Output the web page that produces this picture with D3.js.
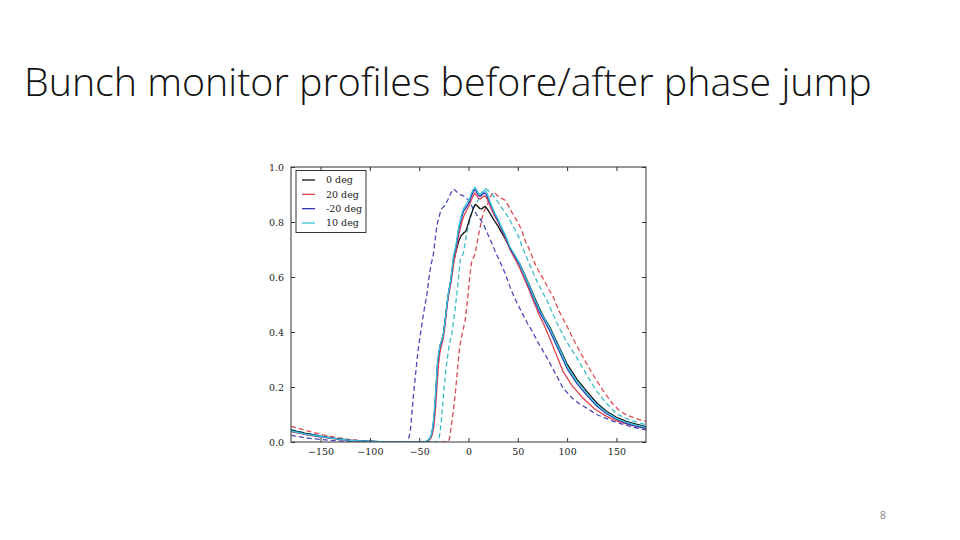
<!DOCTYPE html>
<html><head><meta charset="utf-8">
<script src="https://cdn.jsdelivr.net/npm/d3@7"></script>
<style>html,body{margin:0;padding:0;background:#fff;}svg{display:block;}</style>
</head><body>
<svg id="chart" width="960" height="540"></svg>
<script>
const titleText = "Bunch monitor profiles before/after phase jump";
const pageNumber = "8";
const xTicks = [-150, -100, -50, 0, 50, 100, 150];
const yTicks = [0.0, 0.2, 0.4, 0.6, 0.8, 1.0];
const legendLabels = ["0 deg", "20 deg", "-20 deg", "10 deg"];

const deg0 = [[-180,0.043],[-165,0.031],[-150,0.021],[-135,0.013],[-120,0.007],[-105,0.003],[-90,0.001],[-70,0],[-44,0],[-41,0.006],[-39,0.012],[-37.5,0.026],[-36,0.05],[-34.5,0.1],[-33,0.18],[-31.5,0.27],[-30,0.32],[-28.7,0.35],[-27,0.37],[-25.4,0.395],[-23.5,0.445],[-22,0.495],[-20.3,0.54],[-18,0.585],[-15.2,0.655],[-12.5,0.695],[-10,0.73],[-7.5,0.75],[-5,0.76],[-3,0.765],[-1,0.785],[1,0.81],[3,0.83],[5,0.85],[7,0.864],[9,0.858],[11.5,0.849],[13.5,0.848],[15.5,0.854],[17,0.856],[19,0.848],[21,0.836],[24,0.818],[27,0.8],[30,0.785],[33,0.765],[37,0.74],[42,0.705],[47,0.675],[52,0.648],[57,0.608],[62,0.568],[67,0.525],[72,0.485],[77,0.45],[83,0.414],[88,0.375],[94,0.33],[100,0.283],[110,0.228],[120,0.184],[130,0.142],[140,0.112],[150,0.09],[160,0.075],[170,0.065],[180,0.056]];

const deg20 = [[-180,0.038],[-165,0.027],[-150,0.018],[-135,0.011],[-120,0.005],[-105,0.002],[-90,0.001],[-70,0],[-43,0],[-40,0.006],[-38,0.015],[-36.5,0.03],[-35,0.06],[-33.5,0.12],[-32,0.2],[-30.5,0.28],[-29,0.325],[-27.5,0.35],[-26,0.37],[-24.5,0.4],[-23,0.45],[-21.5,0.5],[-19.8,0.54],[-17.5,0.585],[-15,0.65],[-12.5,0.7],[-10,0.75],[-7.5,0.79],[-5,0.82],[-3,0.835],[-1,0.848],[1,0.862],[3,0.882],[5,0.898],[6.5,0.905],[8,0.898],[10,0.887],[12,0.884],[14,0.89],[16,0.895],[18,0.89],[20,0.875],[22,0.856],[24,0.84],[27,0.818],[30,0.8],[33,0.776],[37,0.745],[42,0.7],[47,0.667],[52,0.632],[57,0.59],[62,0.548],[67,0.503],[72,0.46],[77,0.423],[81,0.389],[86,0.345],[91,0.3],[96,0.256],[105,0.205],[116,0.16],[128,0.12],[140,0.093],[150,0.077],[160,0.066],[170,0.057],[180,0.05]];

const degm20 = [[-180,0.04],[-165,0.029],[-150,0.02],[-135,0.012],[-120,0.006],[-105,0.003],[-90,0.001],[-70,0],[-44,0],[-41,0.006],[-39,0.014],[-37.5,0.028],[-36,0.055],[-34.5,0.11],[-33,0.19],[-31.5,0.28],[-30,0.325],[-28.7,0.35],[-27,0.368],[-25.4,0.393],[-23.5,0.445],[-22,0.495],[-20.3,0.54],[-18,0.585],[-15.2,0.67],[-12.5,0.715],[-10,0.77],[-7.5,0.81],[-5,0.84],[-3,0.85],[-1,0.86],[1,0.875],[3,0.895],[5,0.912],[6.5,0.918],[8,0.91],[10,0.897],[12,0.893],[14,0.9],[16,0.906],[18,0.9],[20,0.885],[22,0.866],[24,0.85],[27,0.826],[30,0.805],[33,0.78],[37,0.75],[42,0.706],[47,0.675],[52,0.643],[57,0.6],[62,0.558],[67,0.513],[72,0.473],[77,0.44],[83,0.4],[88,0.36],[94,0.315],[100,0.267],[110,0.212],[120,0.17],[130,0.131],[140,0.103],[150,0.083],[160,0.068],[170,0.058],[180,0.05]];

const deg10 = [[-180,0.04],[-165,0.029],[-150,0.02],[-135,0.012],[-120,0.006],[-105,0.003],[-90,0.001],[-70,0],[-44,0],[-41,0.006],[-39,0.015],[-37.5,0.03],[-36,0.06],[-34.5,0.12],[-33,0.2],[-31.5,0.29],[-30,0.33],[-28.7,0.353],[-27,0.37],[-25.4,0.395],[-23.5,0.45],[-22,0.5],[-20.3,0.545],[-18,0.59],[-15.2,0.675],[-12.5,0.72],[-10,0.78],[-7.5,0.82],[-5,0.85],[-3,0.86],[-1,0.87],[1,0.885],[3,0.905],[5,0.92],[6.5,0.926],[8,0.918],[10,0.905],[12,0.9],[14,0.908],[16,0.915],[18,0.91],[20,0.893],[22,0.872],[24,0.855],[27,0.83],[30,0.81],[33,0.785],[37,0.755],[42,0.71],[47,0.68],[52,0.648],[57,0.605],[62,0.565],[67,0.52],[72,0.48],[77,0.448],[83,0.41],[88,0.37],[94,0.325],[100,0.275],[110,0.22],[120,0.176],[130,0.136],[140,0.107],[150,0.086],[160,0.071],[170,0.061],[180,0.053]];

const deg20Dashed = [[-180,0.057],[-165,0.042],[-150,0.028],[-135,0.017],[-120,0.009],[-105,0.004],[-90,0.001],[-75,0],[-21,0],[-19.5,0.01],[-18.6,0.026],[-17,0.07],[-15.5,0.11],[-13.5,0.172],[-11,0.27],[-9.1,0.345],[-6,0.4],[-3.3,0.444],[-1.5,0.5],[0,0.55],[1.5,0.61],[3.4,0.661],[5,0.67],[6.8,0.685],[8.5,0.72],[10.1,0.752],[12,0.785],[13.6,0.813],[16,0.84],[19,0.862],[22,0.89],[25.4,0.909],[29,0.897],[33,0.887],[37.2,0.879],[41,0.855],[45.6,0.825],[50,0.8],[54,0.77],[57.5,0.732],[61,0.705],[65,0.67],[69,0.635],[72.7,0.613],[78,0.578],[82,0.552],[86.2,0.525],[92,0.475],[99.8,0.422],[108,0.362],[116.6,0.305],[127,0.24],[137,0.184],[146,0.14],[153.9,0.111],[162,0.096],[170,0.085],[180,0.075]];

const degm20Dashed = [[-180,0.024],[-165,0.015],[-150,0.009],[-135,0.005],[-120,0.002],[-100,0.001],[-80,0],[-63,0],[-61,0.008],[-59,0.04],[-57.5,0.1],[-55.8,0.172],[-53,0.27],[-50.7,0.345],[-48,0.41],[-45.6,0.468],[-42,0.54],[-40,0.6],[-38,0.645],[-36,0.675],[-34,0.73],[-32,0.788],[-29,0.83],[-27,0.849],[-24,0.86],[-21,0.88],[-18,0.905],[-15,0.92],[-12,0.91],[-9,0.9],[-6,0.897],[-3,0.89],[0,0.879],[3,0.86],[6,0.84],[9,0.822],[12,0.81],[16,0.785],[20,0.752],[24,0.72],[28,0.685],[32,0.655],[37,0.615],[42,0.565],[46,0.53],[50,0.5],[55,0.465],[60,0.43],[65,0.4],[70,0.365],[75,0.335],[80,0.303],[88,0.25],[96,0.196],[105,0.16],[112,0.14],[120,0.123],[130,0.1],[140,0.085],[147,0.075],[155,0.066],[165,0.056],[172,0.05],[180,0.044]];

const deg10Dashed = [[-180,0.045],[-165,0.033],[-150,0.022],[-135,0.013],[-120,0.007],[-105,0.003],[-90,0.001],[-75,0],[-31,0],[-30,0.01],[-28.7,0.038],[-27,0.1],[-25.4,0.172],[-23,0.26],[-20.3,0.335],[-18.5,0.37],[-16.8,0.395],[-14,0.47],[-11.8,0.54],[-10,0.6],[-8.4,0.661],[-5,0.69],[-3,0.73],[-1.6,0.764],[1,0.8],[3.4,0.837],[6,0.86],[9,0.875],[12,0.89],[15,0.91],[17,0.921],[20,0.915],[24,0.9],[28.8,0.879],[33,0.855],[38.9,0.825],[43,0.8],[47.4,0.77],[51,0.745],[54.2,0.712],[58,0.68],[62,0.645],[65.9,0.613],[70,0.58],[75,0.545],[79.5,0.516],[85,0.47],[91.3,0.42],[100,0.362],[110,0.305],[120,0.243],[130,0.184],[140,0.14],[150,0.103],[160,0.085],[170,0.073],[180,0.063]];

const seriesList = [
  {data: deg20Dashed, color: "#dc4d55", dashed: true},
  {data: deg10Dashed, color: "#3cbcc8", dashed: true},
  {data: degm20Dashed, color: "#4a4cb8", dashed: true},
  {data: deg0, color: "#111111", dashed: false},
  {data: deg20, color: "#e0444c", dashed: false},
  {data: degm20, color: "#3036b4", dashed: false},
  {data: deg10, color: "#38c4d8", dashed: false}
];
const legendColors = ["#111111", "#e0444c", "#3036b4", "#38c4d8"];

(function () {
const svg = d3.select("#chart");
const pL = 291, pR = 646, pT = 167, pB = 442;
const x = d3.scaleLinear().domain([-180, 180]).range([pL, pR]);
const y = d3.scaleLinear().domain([0, 1]).range([pB, pT]);

// Title
const title = svg.append("text")
  .attr("x", 24).attr("y", 96)
  .attr("font-family", "'Open Sans', 'Noto Sans', sans-serif")
  .attr("font-weight", 300)
  .attr("font-size", 38)
  .attr("fill", "#111")
  .text(titleText);
const tw = title.node().getComputedTextLength();
title.attr("font-size", 38 * 848 / tw);

svg.append("text")
  .attr("x", 883).attr("y", 519)
  .attr("text-anchor", "middle")
  .attr("font-family", "'Open Sans', 'Noto Sans', sans-serif")
  .attr("font-size", 11)
  .attr("fill", "#8a8a8a")
  .text(pageNumber);

svg.append("defs").append("clipPath").attr("id", "clip")
  .append("rect").attr("x", pL).attr("y", pT)
  .attr("width", pR - pL).attr("height", pB - pT);

const line = d3.line().x(d => x(d[0])).y(d => y(d[1]));
const g = svg.append("g").attr("clip-path", "url(#clip)");
seriesList.forEach(s => {
  g.append("path").datum(s.data)
    .attr("d", line)
    .attr("fill", "none")
    .attr("stroke", s.color)
    .attr("stroke-width", 1.3)
    .attr("stroke-dasharray", s.dashed ? "5,3" : null);
});

// Axes
const tickLen = 4;
const fontAx = "'DejaVu Serif', serif";
const xAxisB = d3.axisBottom(x).tickValues(xTicks).tickSizeInner(-tickLen).tickSizeOuter(0).tickPadding(6)
  .tickFormat(d => d < 0 ? "\u2212" + Math.abs(d) : d);
const xAxisT = d3.axisTop(x).tickValues(xTicks).tickSizeInner(-tickLen).tickSizeOuter(0).tickFormat("");
const yAxisL = d3.axisLeft(y).tickValues(yTicks).tickSizeInner(-tickLen).tickSizeOuter(0).tickPadding(7)
  .tickFormat(d3.format(".1f"));
const yAxisR = d3.axisRight(y).tickValues(yTicks).tickSizeInner(-tickLen).tickSizeOuter(0).tickFormat("");

function style(sel) {
  sel.select(".domain").remove();
  sel.selectAll("line").attr("stroke", "#333");
  sel.selectAll("text").attr("font-family", fontAx).attr("font-size", 9.5).attr("fill", "#222");
}
svg.append("g").attr("transform", `translate(0,${pB})`).call(xAxisB).call(style);
svg.append("g").attr("transform", `translate(0,${pT})`).call(xAxisT).call(style);
svg.append("g").attr("transform", `translate(${pL},0)`).call(yAxisL).call(style);
svg.append("g").attr("transform", `translate(${pR},0)`).call(yAxisR).call(style);

svg.append("rect").attr("x", pL).attr("y", pT)
  .attr("width", pR - pL).attr("height", pB - pT)
  .attr("fill", "none").attr("stroke", "#333").attr("stroke-width", 1);

// Legend
const lg = svg.append("g");
lg.append("rect").attr("x", 296).attr("y", 170.5).attr("width", 70).attr("height", 62)
  .attr("fill", "#fff").attr("stroke", "#333").attr("stroke-width", 1);
const rowY = d3.scalePoint().domain(legendLabels).range([180, 223]);
legendLabels.forEach((lab, i) => {
  lg.append("line").attr("x1", 302).attr("x2", 315)
    .attr("y1", rowY(lab)).attr("y2", rowY(lab))
    .attr("stroke", legendColors[i]).attr("stroke-width", 1.3);
  lg.append("text").attr("x", 326).attr("y", rowY(lab)).attr("dy", "0.35em")
    .attr("font-family", fontAx).attr("font-size", 9.5).attr("fill", "#222")
    .text(lab);
});
})();
</script>
</body></html>
